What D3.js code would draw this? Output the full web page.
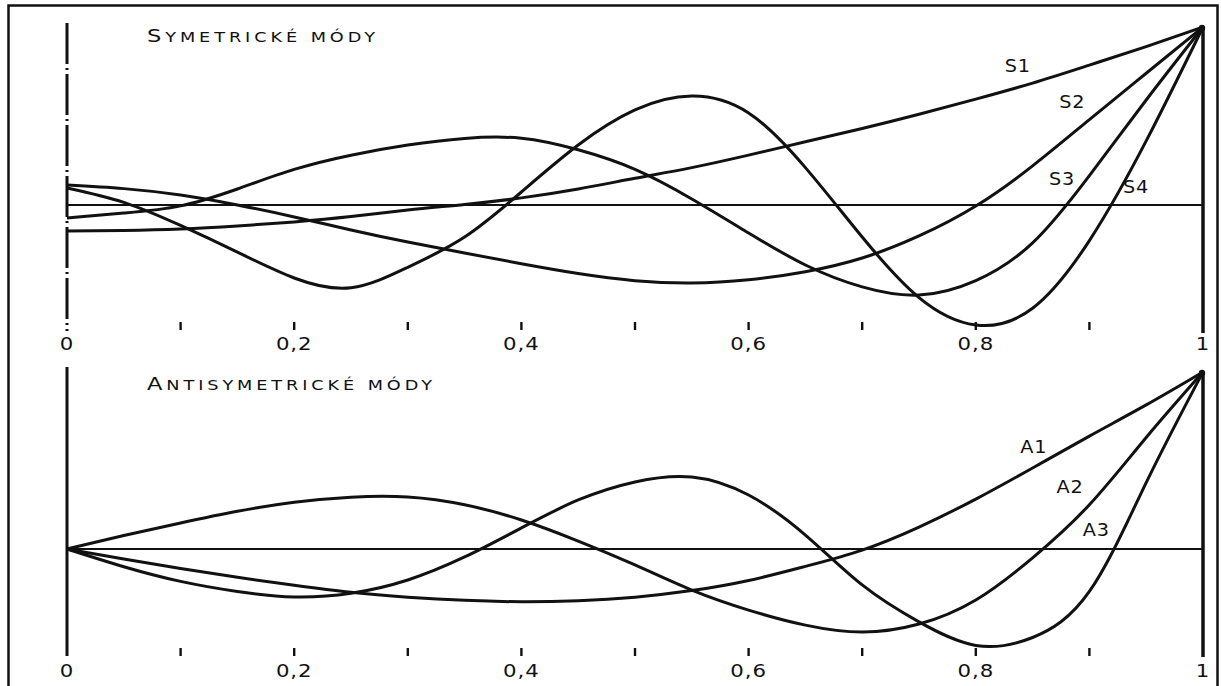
<!DOCTYPE html>
<html>
<head>
<meta charset="utf-8">
<script src="https://cdn.jsdelivr.net/npm/d3@7"></script>
<style>
  html, body { margin: 0; padding: 0; background: #fff; }
  svg { display: block; }
  text { font-family: "DejaVu Sans", sans-serif; fill: #111; }
</style>
</head>
<body>
<svg id="chart" width="1221" height="686"></svg>
<script>
// ---- data ----
const xPos = [0, 0.05, 0.1, 0.15, 0.2, 0.25, 0.3, 0.35, 0.4, 0.45, 0.5,
              0.55, 0.6, 0.65, 0.7, 0.75, 0.8, 0.85, 0.9, 0.95, 1];

const S1 = [-0.146,-0.143,-0.135,-0.118,-0.095,-0.065,-0.028,0.003,0.04,0.09,0.15,0.21,0.28,0.355,0.43,0.51,0.595,0.685,0.786,0.89,1];
const S2 = [0.112,0.092,0.056,0.0,-0.067,-0.14,-0.208,-0.27,-0.33,-0.385,-0.425,-0.438,-0.42,-0.375,-0.298,-0.174,-0.006,0.22,0.48,0.74,1];
const S3 = [-0.073,-0.045,-0.005,0.09,0.2,0.28,0.337,0.374,0.375,0.31,0.2,0.034,-0.157,-0.337,-0.46,-0.506,-0.425,-0.213,0.165,0.59,1];
const S4 = [0.096,0.015,-0.115,-0.265,-0.41,-0.465,-0.35,-0.18,0.073,0.337,0.534,0.612,0.517,0.21,-0.18,-0.52,-0.674,-0.58,-0.2,0.36,1];

const A1 = [0,-0.056,-0.11,-0.16,-0.205,-0.245,-0.272,-0.29,-0.298,-0.292,-0.272,-0.235,-0.178,-0.098,-0.006,0.124,0.282,0.458,0.638,0.814,1];
const A2 = [0,0.076,0.147,0.213,0.264,0.293,0.294,0.25,0.164,0.045,-0.09,-0.232,-0.345,-0.43,-0.469,-0.424,-0.288,-0.05,0.25,0.63,1];
const A3 = [0,-0.1,-0.183,-0.24,-0.271,-0.25,-0.175,-0.045,0.119,0.277,0.379,0.407,0.305,0.079,-0.203,-0.412,-0.545,-0.5,-0.24,0.375,1];

const symNames = ["S1", "S2", "S3", "S4"];
const antiNames = ["A1", "A2", "A3"];
// label anchors in data units [x, value]
const symLabelAt = [[0.837, 0.75], [0.885, 0.545], [0.876, 0.113], [0.941, 0.067]];
const antiLabelAt = [[0.851, 0.542], [0.883, 0.316], [0.906, 0.073]];

const minorTicks = [0.1, 0.2, 0.3, 0.4, 0.5, 0.6, 0.7, 0.8, 0.9];
const tickLabelValues = [0, 0.2, 0.4, 0.6, 0.8, 1];
const tickLabels = ["0", "0,2", "0,4", "0,6", "0,8", "1"];

const titleTop = ["S", "YMETRICKÉ MÓDY"];
const titleBottom = ["A", "NTISYMETRICKÉ MÓDY"];

// ---- drawing ----
const svg = d3.select("#chart");
svg.append("rect").attr("width", 1221).attr("height", 686).attr("fill", "#fff");
// outer frame
svg.append("rect").attr("x", 8.5).attr("y", 5.5).attr("width", 1209).attr("height", 690)
  .attr("fill", "none").attr("stroke", "#111").attr("stroke-width", 2.5);

const x = d3.scaleLinear().domain([0, 1]).range([67, 1203]);
const stretch = 1.22;

const panels = [
  { y: d3.scaleLinear().domain([0, 1]).range([205, 27]), series: [S1, S2, S3, S4], names: symNames,
    labelAt: symLabelAt, axisTop: 23, axisBottom: 331, rightBottom: 333, tickY: 322, labelY: 350,
    title: titleTop, titleY: 42, titleLen: 228, dashed: true },
  { y: d3.scaleLinear().domain([0, 1]).range([549, 372]), series: [A1, A2, A3], names: antiNames,
    labelAt: antiLabelAt, axisTop: 367, axisBottom: 656, rightBottom: 657, tickY: 648, labelY: 677,
    title: titleBottom, titleY: 390, titleLen: 285, dashed: false }
];

panels.forEach(p => {
  const g = svg.append("g");
  // left axis
  const la = g.append("line").attr("x1", x(0)).attr("x2", x(0))
    .attr("y1", p.axisTop).attr("y2", p.axisBottom)
    .attr("stroke", "#111").attr("stroke-width", 3);
  if (p.dashed) la.attr("stroke-dasharray", "41,4,2,4").attr("stroke-dashoffset", 0);
  // right axis
  g.append("line").attr("x1", x(1)).attr("x2", x(1))
    .attr("y1", p.y(1)).attr("y2", p.rightBottom)
    .attr("stroke", "#111").attr("stroke-width", 3.5);
  // zero line
  g.append("line").attr("x1", x(0)).attr("x2", x(1))
    .attr("y1", p.y(0)).attr("y2", p.y(0))
    .attr("stroke", "#111").attr("stroke-width", 2);
  // curves
  const line = d3.line().x((d, i) => x(xPos[i])).y(d => p.y(d)).curve(d3.curveNatural);
  p.series.forEach(s => {
    g.append("path").attr("d", line(s)).attr("fill", "none")
      .attr("stroke", "#111").attr("stroke-width", 3).attr("stroke-linejoin", "round");
  });
  // convergence blob
  g.append("circle").attr("cx", x(1) - 1).attr("cy", p.y(1) + 1).attr("r", 3.2).attr("fill", "#111");
  // minor ticks
  g.selectAll(".tk").data(minorTicks).enter().append("line")
    .attr("x1", d => x(d)).attr("x2", d => x(d))
    .attr("y1", p.tickY).attr("y2", p.tickY + 8)
    .attr("stroke", "#111").attr("stroke-width", 2.4);
  // tick labels (slightly extended lettering)
  g.selectAll(".tl").data(tickLabelValues).enter().append("text")
    .attr("transform", d => `translate(${x(d)},${p.labelY}) scale(1.15,1)`)
    .attr("text-anchor", "middle").attr("font-size", 18.5)
    .attr("letter-spacing", 0.8)
    .text((d, i) => tickLabels[i]);
  // series labels
  p.names.forEach((n, i) => {
    g.append("text")
      .attr("transform", `translate(${x(p.labelAt[i][0])},${p.y(p.labelAt[i][1])}) scale(1.1,1)`)
      .attr("text-anchor", "middle").attr("font-size", 17.5).attr("letter-spacing", 0.8)
      .text(n);
  });
  // title in small caps, extended lettering
  const t = g.append("text")
    .attr("transform", `translate(147,${p.titleY}) scale(${stretch},1)`)
    .attr("x", 0).attr("y", 0)
    .attr("textLength", p.titleLen / stretch).attr("lengthAdjust", "spacing");
  t.append("tspan").attr("font-size", 18.5).text(p.title[0]);
  t.append("tspan").attr("font-size", 14.5).text(p.title[1]);
});
</script>
</body>
</html>
